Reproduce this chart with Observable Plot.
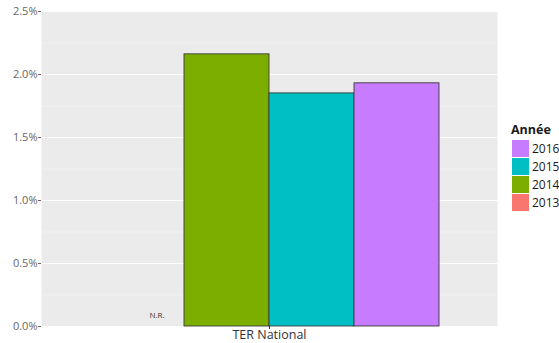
<!DOCTYPE html>
<html>
<head>
<meta charset="utf-8">
<script src="https://cdn.jsdelivr.net/npm/d3@7"></script>
<script src="https://cdn.jsdelivr.net/npm/@observablehq/plot@0.6"></script>
<style>
  html, body { margin: 0; padding: 0; background: white; }
  #wrap { position: relative; width: 559px; height: 343px; font-family: "Open Sans", sans-serif; }
  #legend { position: absolute; left: 511px; top: 121px; font-size: 12px; color: #1a1a1a; }
  #legend .title { font-weight: bold; font-size: 12.5px; margin-bottom: 1px; line-height: 17px; }
  #legend .row { display: flex; align-items: center; height: 18px; }
  #legend .sw { width: 17px; height: 17px; margin-left: 1px; margin-right: 3px; }
</style>
</head>
<body>
<div id="wrap"></div>
<script>
const years = ["2013", "2014", "2015", "2016"];
const values = [null, 0.0216, 0.0185, 0.0193];
const colors = ["#F8766D", "#7CAE00", "#00BFC4", "#C77CFF"];
const group = "TER National";
const naLabel = "N.R.";
const legendTitle = "Année";
const majorTicks = [0, 0.005, 0.01, 0.015, 0.02, 0.025];
const minorTicks = [0.0025, 0.0075, 0.0125, 0.0175, 0.0225];

const data = years.map((y, i) => ({group, year: y, value: values[i]}));
const present = data.filter(d => d.value != null);
const missing = data.filter(d => d.value == null);

const chart = Plot.plot({
  width: 559,
  height: 343,
  marginLeft: 41,
  marginRight: 62,
  marginTop: 11,
  marginBottom: 17,
  style: {fontFamily: "Open Sans, sans-serif", background: "white", overflow: "visible"},
  fx: {padding: 0, label: null},
  x: {domain: years, paddingInner: 0, paddingOuter: 0.6667, axis: null},
  y: {domain: [0, 0.025], label: null},
  color: {domain: years, range: colors},
  marks: [
    Plot.frame({fill: "#ebebeb"}),
    Plot.ruleY(minorTicks, {stroke: "#f5f5f5", strokeWidth: 0.6}),
    Plot.ruleY(majorTicks, {stroke: "white", strokeWidth: 1.1}),
    Plot.barY(present, {fx: "group", x: "year", y: "value", fill: "year", stroke: "#3a3a3a", strokeWidth: 0.9, inset: 0}),
    Plot.text(missing, {fx: "group", x: "year", y: 0, text: () => naLabel, dy: -11, dx: 15, fontSize: 8, fill: "#333"}),
    Plot.axisY({ticks: majorTicks, tickFormat: d3.format(".1%"), tickSize: 3, tickPadding: 1, fontSize: 11, color: "#666", label: null}),
    Plot.axisFx({anchor: "bottom", tickSize: 3, tickPadding: 1, fontSize: 12.5, color: "#333", label: null})
  ]
});

const wrap = document.getElementById("wrap");
wrap.appendChild(chart);

const legend = document.createElement("div");
legend.id = "legend";
const t = document.createElement("div");
t.className = "title";
t.textContent = legendTitle;
legend.appendChild(t);
for (let i = years.length - 1; i >= 0; i--) {
  const row = document.createElement("div");
  row.className = "row";
  const sw = document.createElement("div");
  sw.className = "sw";
  sw.style.background = colors[i];
  const lab = document.createElement("span");
  lab.textContent = years[i];
  row.appendChild(sw);
  row.appendChild(lab);
  legend.appendChild(row);
}
wrap.appendChild(legend);
</script>
</body>
</html>
